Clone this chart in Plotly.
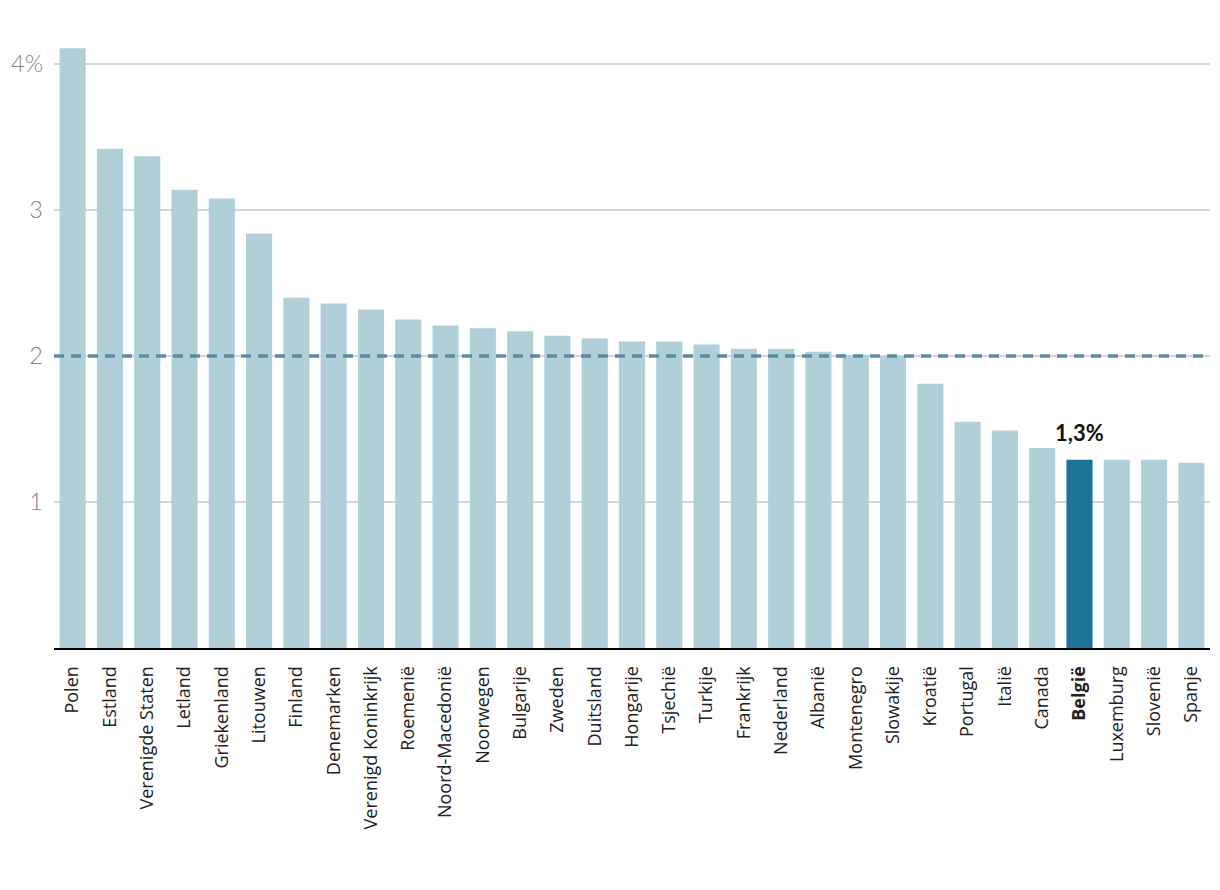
import plotly.graph_objects as go

countries = ["Polen", "Estland", "Verenigde Staten", "Letland", "Griekenland", "Litouwen",
             "Finland", "Denemarken", "Verenigd Koninkrijk", "Roemenië", "Noord-Macedonië",
             "Noorwegen", "Bulgarije", "Zweden", "Duitsland", "Hongarije", "Tsjechië",
             "Turkije", "Frankrijk", "Nederland", "Albanië", "Montenegro", "Slowakije",
             "Kroatië", "Portugal", "Italië", "Canada", "België", "Luxemburg", "Slovenië", "Spanje"]
values = [4.11, 3.42, 3.37, 3.14, 3.08, 2.84,
          2.40, 2.36, 2.32, 2.25, 2.21,
          2.19, 2.17, 2.14, 2.12, 2.10, 2.10,
          2.08, 2.05, 2.05, 2.03, 2.01, 2.00,
          1.81, 1.55, 1.49, 1.37, 1.29, 1.29, 1.29, 1.27]
highlight = "België"
highlight_label = "1,3%"
target = 2.0
y_ticks = [1, 2, 3, 4]
y_ticklabels = ["1", "2", "3", "4%"]

light = "#b0cfd9"
dark = "#1c7596"
colors = [dark if c == highlight else light for c in countries]
ticktext = [f"<b>{c}</b>" if c == highlight else c for c in countries]

fig = go.Figure()
fig.add_trace(go.Bar(x=countries, y=values, marker=dict(color=colors, line=dict(width=0)),
                     hoverinfo="x+y"))

hi = countries.index(highlight)
fig.add_annotation(x=countries[hi], y=values[hi], text=f"<b>{highlight_label}</b>",
                   showarrow=False, yanchor="bottom", yshift=12,
                   font=dict(family="Lato, Open Sans, sans-serif", size=22, color="#111"))

fig.add_shape(type="line", xref="paper", x0=0, x1=1, yref="y", y0=target, y1=target,
              line=dict(color="#5a8ca3", width=3.5, dash="10px,7px"), layer="above")

fig.update_layout(
    width=1220, height=890,
    margin=dict(l=46, r=18, t=27, b=250),
    paper_bgcolor="white", plot_bgcolor="white",
    bargap=0.3,
    showlegend=False,
    xaxis=dict(tickmode="array", tickvals=countries, ticktext=ticktext, tickangle=-90,
               tickfont=dict(family="Open Sans, sans-serif", size=18, color="#222"),
               showline=True, linecolor="black", linewidth=2, ticks="",
               showgrid=False, ticklabelstandoff=9, automargin=False),
    yaxis=dict(range=[0, 4.2], tickmode="array", tickvals=y_ticks, ticktext=y_ticklabels,
               tickfont=dict(family="Lato, sans-serif", size=23.5, color="#858585", weight=300),
               showgrid=True, gridcolor="#d4d4d4", gridwidth=1.5, zeroline=False,
               showline=False, ticks="", ticklabelstandoff=10, automargin=False),
)

fig.write_html("out.html")
